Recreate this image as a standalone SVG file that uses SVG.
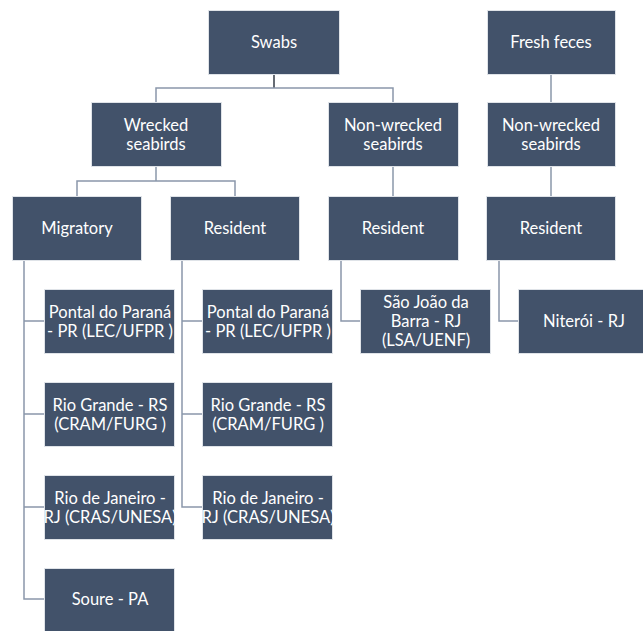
<svg xmlns="http://www.w3.org/2000/svg" width="643" height="631" viewBox="0 0 643 631">
<style>
.b{fill:#42526A;stroke:#dfe3e8;stroke-width:1}
.t{font-family:Lato,"Open Sans","Liberation Sans",sans-serif;font-size:16.5px;fill:#ffffff;text-anchor:middle}
.c{fill:none;stroke:#8a97aa;stroke-width:1.5}
</style>
<rect width="643" height="631" fill="#ffffff"/>
<g id="connectors">
<path class="c" d="M274 74V88" style="stroke:#333a44"/>
<path class="c" d="M156 102V88H393V102"/>
<path class="c" d="M156 167V181"/>
<path class="c" d="M77 196V181H235V196"/>
<path class="c" d="M393 167V196"/>
<path class="c" d="M551 74V102"/>
<path class="c" d="M551 167V196"/>
<path class="c" d="M24 260V599H44M24 321H44M24 414H44M24 507H44"/>
<path class="c" d="M182 260V507H202M182 321H202M182 414H202"/>
<path class="c" d="M341 260V321H361"/>
<path class="c" d="M499 260V321H519"/>
</g>
<g id="swabs"><rect class="b" x="208.5" y="10.5" width="131" height="64"/><text class="t" x="274" y="48">Swabs</text></g>
<g id="fresh-feces"><rect class="b" x="487.5" y="10.5" width="128" height="64"/><text class="t" x="551" y="48">Fresh feces</text></g>
<g id="wrecked"><rect class="b" x="91.5" y="102.5" width="130" height="64"/><text class="t" x="156" y="131">Wrecked</text><text class="t" x="156" y="150">seabirds</text></g>
<g id="nonwrecked-swabs"><rect class="b" x="328.5" y="102.5" width="130" height="64"/><text class="t" x="393" y="131">Non-wrecked</text><text class="t" x="393" y="150">seabirds</text></g>
<g id="nonwrecked-feces"><rect class="b" x="487.5" y="102.5" width="128" height="64"/><text class="t" x="551" y="131">Non-wrecked</text><text class="t" x="551" y="150">seabirds</text></g>
<g id="migratory"><rect class="b" x="12.5" y="196.5" width="129" height="64"/><text class="t" x="77" y="234">Migratory</text></g>
<g id="resident-wrecked"><rect class="b" x="170.5" y="196.5" width="129" height="64"/><text class="t" x="235" y="234">Resident</text></g>
<g id="resident-nonwrecked"><rect class="b" x="328.5" y="196.5" width="130" height="64"/><text class="t" x="393" y="234">Resident</text></g>
<g id="resident-feces"><rect class="b" x="486.5" y="196.5" width="129" height="64"/><text class="t" x="551" y="234">Resident</text></g>
<g id="pontal-m"><rect class="b" x="44.5" y="289.5" width="130" height="64"/><text class="t" x="110" y="318">Pontal do Paraná</text><text class="t" x="110" y="337">- PR (LEC/UFPR )</text></g>
<g id="pontal-r"><rect class="b" x="202.5" y="289.5" width="130" height="64"/><text class="t" x="268" y="318">Pontal do Paraná</text><text class="t" x="268" y="337">- PR (LEC/UFPR )</text></g>
<g id="sao-joao"><rect class="b" x="360.5" y="289.5" width="130" height="64"/><text class="t" x="426" y="308">São João da</text><text class="t" x="426" y="327">Barra - RJ</text><text class="t" x="426" y="346">(LSA/UENF)</text></g>
<g id="niteroi"><rect class="b" x="518.5" y="289.5" width="130" height="64"/><text class="t" x="584" y="327">Niterói - RJ</text></g>
<g id="rio-grande-m"><rect class="b" x="44.5" y="382.5" width="130" height="64"/><text class="t" x="110" y="411">Rio Grande - RS</text><text class="t" x="110" y="430">(CRAM/FURG )</text></g>
<g id="rio-grande-r"><rect class="b" x="202.5" y="382.5" width="130" height="64"/><text class="t" x="268" y="411">Rio Grande - RS</text><text class="t" x="268" y="430">(CRAM/FURG )</text></g>
<g id="rio-janeiro-m"><rect class="b" x="44.5" y="475.5" width="130" height="64"/><text class="t" x="110" y="504">Rio de Janeiro -</text><text class="t" x="110" y="523">RJ (CRAS/UNESA)</text></g>
<g id="rio-janeiro-r"><rect class="b" x="202.5" y="475.5" width="130" height="64"/><text class="t" x="268" y="504">Rio de Janeiro -</text><text class="t" x="268" y="523">RJ (CRAS/UNESA)</text></g>
<g id="soure"><rect class="b" x="44.5" y="568.5" width="130" height="64"/><text class="t" x="110" y="605">Soure - PA</text></g>
</svg>
